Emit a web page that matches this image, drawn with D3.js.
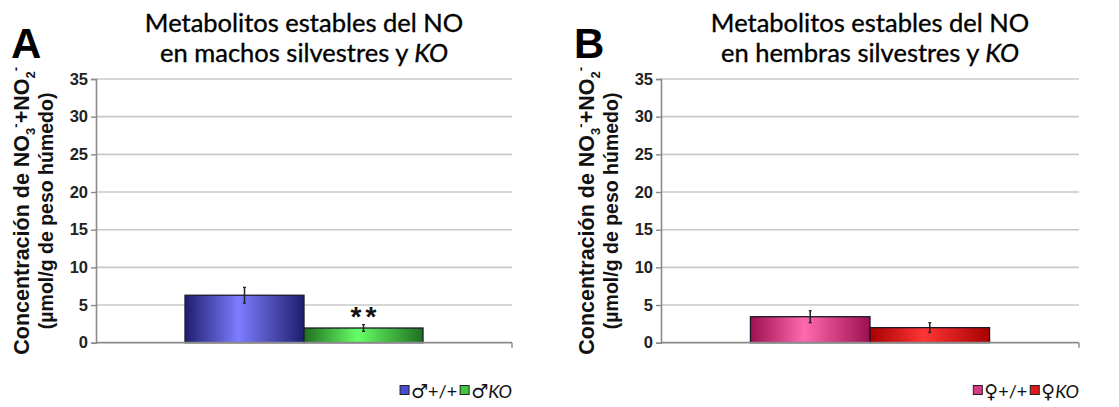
<!DOCTYPE html>
<html><head><meta charset="utf-8">
<script src="https://cdn.jsdelivr.net/npm/d3@7"></script>
<style>body{margin:0;background:#fff}svg{display:block}</style>
</head><body>
<svg id="c" width="1119" height="407"></svg>
<script>
// ---- data ----
const yTicks = [0, 5, 10, 15, 20, 25, 30, 35];
const groupsA = ["\u2642+/+", "\u2642KO"];
const valuesA = [6.3, 1.95];
const errorsA = [1.05, 0.45];
const groupsB = ["\u2640+/+", "\u2640KO"];
const valuesB = [3.45, 2.0];
const errorsB = [0.8, 0.65];
const titlesA = ["Metabolitos estables del NO", "en machos silvestres y "];
const titlesB = ["Metabolitos estables del NO", "en hembras silvestres y "];
const lettersAB = ["A", "B"];
const signifA = ["", "**"];
const signifB = ["", ""];

const svg = d3.select("#c");
const defs = svg.append("defs");
function grad(id, edge, mid) {
  const g = defs.append("linearGradient").attr("id", id).attr("x1", "0").attr("x2", "1").attr("y1", "0").attr("y2", "0");
  g.append("stop").attr("offset", "0%").attr("stop-color", edge);
  g.append("stop").attr("offset", "45%").attr("stop-color", mid);
  g.append("stop").attr("offset", "100%").attr("stop-color", edge);
}
grad("gBlue", "#1e1e6e", "#7d7dff");
grad("gGreen", "#1f6f1f", "#66ff66");
grad("gPink", "#9c1050", "#ff6aae");
grad("gRed", "#a80000", "#ff3535");

const panels = [
  {x0: 96, x1: 512, groups: groupsA, values: valuesA, errors: errorsA, fills: ["gBlue", "gGreen"], legendSw: ["#4b4bd0", "#3ec83e"],
   titles: titlesA, letter: lettersAB[0], letterX: 11, sig: signifA, labelX: 21, labelX2: 46, legendRight: 512},
  {x0: 661, x1: 1079, groups: groupsB, values: valuesB, errors: errorsB, fills: ["gPink", "gRed"], legendSw: ["#d83a86", "#e01818"],
   titles: titlesB, letter: lettersAB[1], letterX: 574, sig: signifB, labelX: 586, labelX2: 611, legendRight: 1079}
];

const yTop = 79, yBot = 342.7;
const y = d3.scaleLinear().domain([0, 35]).range([yBot, yTop]);
const ARIAL = "'Liberation Sans', Arial, sans-serif";

panels.forEach(p => {
  const g = svg.append("g");
  const x0 = d3.scaleBand().domain(["g"]).range([p.x0, p.x1]).paddingInner(0).paddingOuter(0.374);
  const x1 = d3.scaleBand().domain(p.groups).range([x0("g"), x0("g") + x0.bandwidth()]);

  // gridlines
  g.append("g").selectAll("line").data(yTicks.filter(t => t > 0)).join("line")
    .attr("x1", p.x0).attr("x2", p.x1).attr("y1", d => y(d)).attr("y2", d => y(d))
    .attr("stroke", "#c8c8c8").attr("stroke-width", 1.6);

  // y axis
  const ax = g.append("g").attr("transform", `translate(${p.x0},0)`)
    .call(d3.axisLeft(y).tickValues(yTicks).tickSize(5).tickPadding(3));
  ax.select(".domain").attr("stroke", "#8a8a8a").attr("stroke-width", 1.6);
  ax.selectAll(".tick line").attr("stroke", "#8a8a8a").attr("stroke-width", 1.4);
  ax.selectAll(".tick text").attr("font-family", ARIAL).attr("font-weight", "bold")
    .attr("font-size", 16.5).attr("fill", "#222");

  // bars
  g.append("g").selectAll("rect").data(p.values).join("rect")
    .attr("x", (d, i) => x1(p.groups[i])).attr("width", x1.bandwidth())
    .attr("y", d => y(d)).attr("height", d => y(0) - y(d))
    .attr("fill", (d, i) => `url(#${p.fills[i]})`).attr("stroke", "#1a1a2a").attr("stroke-width", 1.3);

  // x axis
  g.append("line").attr("x1", p.x0).attr("x2", p.x1).attr("y1", y(0)).attr("y2", y(0))
    .attr("stroke", "#8a8a8a").attr("stroke-width", 1.8);
  g.append("line").attr("x1", p.x1).attr("x2", p.x1).attr("y1", y(0)).attr("y2", y(0) + 5)
    .attr("stroke", "#8a8a8a").attr("stroke-width", 1.4);

  // error bars
  const cxOf = i => x1(p.groups[i]) + x1.bandwidth() / 2;
  const eb = g.append("g").selectAll("g").data(p.values).join("g");
  eb.append("line").attr("x1", (d, i) => cxOf(i)).attr("x2", (d, i) => cxOf(i))
    .attr("y1", (d, i) => y(d + p.errors[i])).attr("y2", (d, i) => y(d - p.errors[i]))
    .attr("stroke", "#222").attr("stroke-width", 1.5);
  [1, -1].forEach(s => {
    eb.append("line").attr("x1", (d, i) => cxOf(i) - 1.5).attr("x2", (d, i) => cxOf(i) + 1.5)
      .attr("y1", (d, i) => y(d + s * p.errors[i])).attr("y2", (d, i) => y(d + s * p.errors[i]))
      .attr("stroke", "#222").attr("stroke-width", 1.2);
  });

  // significance
  g.append("g").selectAll("text").data(p.sig).join("text")
    .attr("x", (d, i) => cxOf(i) + 2)
    .attr("y", (d, i) => y(p.values[i] + p.errors[i]) + 1)
    .attr("text-anchor", "middle").attr("font-family", ARIAL).attr("font-weight", "bold")
    .attr("letter-spacing", 4)
    .attr("font-size", 28).attr("fill", "#111").text(d => d);

  // title
  const cx = (p.x0 + p.x1) / 2;
  const t = g.append("text").attr("text-anchor", "middle").attr("font-family", "Lato, sans-serif").attr("font-size", 25.5)
    .attr("fill", "#000").attr("stroke", "#000").attr("stroke-width", 0.35);
  t.append("tspan").attr("x", cx).attr("y", 32).text(p.titles[0]);
  t.append("tspan").attr("x", cx).attr("y", 62).text(p.titles[1]);
  t.append("tspan").attr("font-style", "italic").text("KO");

  // panel letter
  g.append("text").attr("x", p.letterX).attr("y", 58).attr("font-family", ARIAL)
    .attr("font-weight", "bold").attr("font-size", 42).attr("fill", "#000").text(p.letter);

  // y label
  const cy = (yTop + yBot) / 2;
  const yl = g.append("text").attr("transform", `translate(${p.labelX},${cy}) rotate(-90)`).attr("text-anchor", "middle")
    .attr("font-family", ARIAL).attr("font-weight", "bold").attr("font-size", 21.5).attr("fill", "#111").attr("dy", "0.35em");
  yl.append("tspan").text("Concentración de NO");
  yl.append("tspan").attr("font-size", 13).attr("dy", 6).text("3");
  yl.append("tspan").attr("font-size", 13).attr("dy", -15).text("-");
  yl.append("tspan").attr("dy", 9).text("+NO");
  yl.append("tspan").attr("font-size", 13).attr("dy", 6).text("2");
  yl.append("tspan").attr("font-size", 13).attr("dy", -15).text("-");
  g.append("text").attr("transform", `translate(${p.labelX2},${cy}) rotate(-90)`).attr("text-anchor", "middle")
    .attr("font-family", ARIAL).attr("font-weight", "bold").attr("font-size", 19.5).attr("fill", "#111")
    .attr("dy", "0.35em").text("(µmol/g de peso húmedo)");

  // legend
  const lg = g.append("g");
  const items = p.groups.map((gname, i) => ({name: gname, col: p.legendSw[i]}));
  let xr = p.legendRight;
  for (let i = items.length - 1; i >= 0; i--) {
    const sym = items[i].name.slice(0, 1), rest = items[i].name.slice(1);
    const tt = lg.append("text").attr("y", 398).attr("font-family", "Lato, 'DejaVu Sans', sans-serif").attr("font-size", 18).attr("fill", "#111");
    tt.append("tspan").attr("font-family", "'DejaVu Sans'").attr("font-size", 19).text(sym);
    tt.append("tspan").attr("font-style", rest === "KO" ? "italic" : "normal").text(rest);
    const bw = tt.node().getComputedTextLength();
    tt.attr("x", xr - bw);
    xr = xr - bw - 2;
    lg.append("rect").attr("x", xr - 9).attr("y", 385.5).attr("width", 9).attr("height", 9)
      .attr("fill", items[i].col).attr("stroke", "#222").attr("stroke-width", 1);
    xr = xr - 12;
  }
});
</script>
</body></html>
